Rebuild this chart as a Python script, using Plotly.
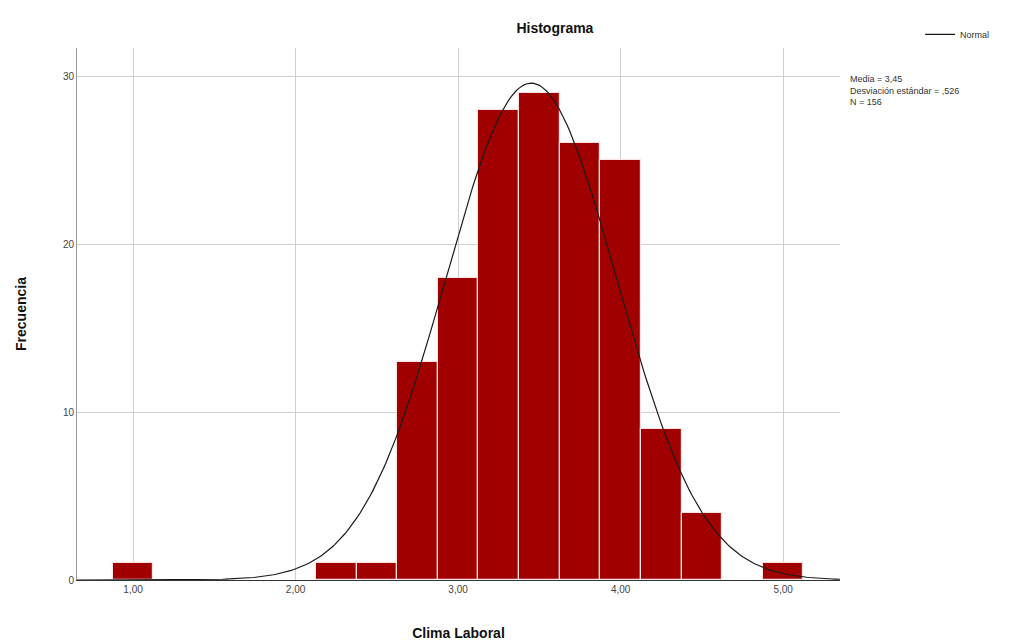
import numpy as np
import plotly.graph_objects as go

# bin centres (width 0.25) and frequencies
bin_centers = [1.00, 2.25, 2.50, 2.75, 3.00, 3.25, 3.50, 3.75, 4.00, 4.25, 4.50, 5.00]
frequencies = [1, 1, 1, 13, 18, 28, 29, 26, 25, 9, 4, 1]
bin_width = 0.25

# statistics printed beside the chart
media = 3.45
desv = 0.526
n = 156

x_ticks = [1, 2, 3, 4, 5]
x_tick_labels = ["1,00", "2,00", "3,00", "4,00", "5,00"]
y_ticks = [0, 10, 20, 30]

# fitted normal curve scaled to the histogram counts
xs = np.linspace(0.655, 5.35, 300)
ys = n * bin_width / (desv * np.sqrt(2 * np.pi)) * np.exp(-0.5 * ((xs - media) / desv) ** 2)

fig = go.Figure()
fig.add_trace(
    go.Bar(
        x=bin_centers,
        y=frequencies,
        width=bin_width,
        marker=dict(color="#A00000", line=dict(color="#FBE3E3", width=1.2)),
        showlegend=False,
    )
)
fig.add_trace(
    go.Scatter(
        x=xs,
        y=ys,
        mode="lines",
        line=dict(color="#1a1a1a", width=1.2),
        name="Normal",
    )
)

fig.add_annotation(
    x=1.011, y=0.954, xref="paper", yref="paper",
    xanchor="left", yanchor="top", align="left", showarrow=False,
    text="Media = 3,45<br>Desviación estándar = ,526<br>N = 156",
    font=dict(size=9, color="#333333"),
)

fig.update_layout(
    width=1028,
    height=644,
    margin=dict(l=69, r=196, t=32, b=72),
    paper_bgcolor="white",
    plot_bgcolor="white",
    font=dict(family="Liberation Sans, Arial, sans-serif", color="#222222"),
    title=dict(
        text="<b>Histograma</b>",
        x=0.532, xanchor="center", y=0.969, yanchor="middle",
        font=dict(size=14, color="#111111"),
    ),
    xaxis=dict(
        range=[0.655, 5.35],
        tickvals=x_ticks,
        ticktext=x_tick_labels,
        showgrid=True,
        gridcolor="#CFCFCF",
        gridwidth=1,
        zeroline=False,
        showline=True,
        linecolor="#333333",
        linewidth=1.2,
        ticks="",
        tickfont=dict(size=10, family="Liberation Sans Narrow, Liberation Sans", color="#444444"),
        title=dict(text="<b>Clima Laboral</b>", font=dict(size=14, color="#111111"), standoff=34),
    ),
    yaxis=dict(
        range=[0, 31.67],
        tickvals=y_ticks,
        showgrid=True,
        gridcolor="#CFCFCF",
        gridwidth=1,
        zeroline=False,
        showline=True,
        linecolor="#9A9A9A",
        linewidth=1,
        ticks="",
        tickfont=dict(size=10, family="Liberation Sans Narrow, Liberation Sans", color="#444444"),
        title=dict(text="<b>Frecuencia</b>", font=dict(size=14, color="#111111"), standoff=32),
    ),
    legend=dict(
        x=1.105, y=1.053, xanchor="left", yanchor="top",
        font=dict(size=9, color="#333333"),
        bgcolor="rgba(0,0,0,0)",
        itemwidth=30,
    ),
    bargap=0,
)

fig.write_html("out.html")
